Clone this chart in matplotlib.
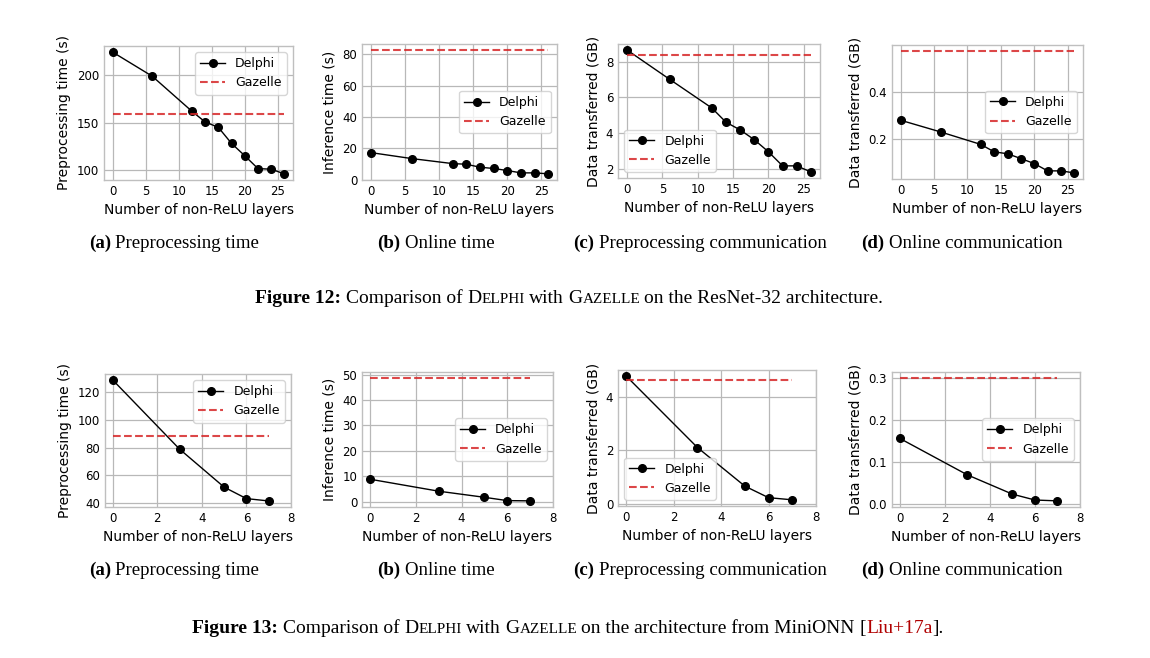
import matplotlib
matplotlib.use("Agg")
import matplotlib.pyplot as plt

# ---------------- data ----------------
x_resnet = [0, 6, 12, 14, 16, 18, 20, 22, 24, 26]
resnet_pre_time = [224.5, 199, 162, 150.7, 145, 128, 115, 101.4, 100.8, 95.8]
resnet_pre_time_gazelle = 159
resnet_online_time = [17.3, 13.5, 10.3, 9.9, 8.0, 7.2, 5.9, 4.4, 4.4, 3.8]
resnet_online_time_gazelle = 82.5
resnet_pre_comm = [8.66, 7.02, 5.40, 4.60, 4.17, 3.62, 2.94, 2.15, 2.15, 1.81]
resnet_pre_comm_gazelle = 8.38
resnet_online_comm = [0.28, 0.231, 0.179, 0.148, 0.14, 0.12, 0.099, 0.0685, 0.0685, 0.06]
resnet_online_comm_gazelle = 0.569

x_minionn = [0, 3, 5, 6, 7]
minionn_pre_time = [129, 78.8, 51.2, 42.9, 41.2]
minionn_pre_time_gazelle = 88.6
minionn_online_time = [8.9, 4.2, 1.8, 0.5, 0.4]
minionn_online_time_gazelle = 48.6
minionn_pre_comm = [4.77, 2.11, 0.67, 0.24, 0.16]
minionn_pre_comm_gazelle = 4.62
minionn_online_comm = [0.156, 0.069, 0.023, 0.009, 0.007]
minionn_online_comm_gazelle = 0.30

xlabel = "Number of non-ReLU layers"
ylabels = ["Preprocessing time (s)", "Inference time (s)",
           "Data transferred (GB)", "Data transferred (GB)"]
sub_letters = ["(a)", "(b)", "(c)", "(d)"]
sub_titles = ["Preprocessing time", "Online time",
              "Preprocessing communication", "Online communication"]

# ---------------- style ----------------
plt.rcParams.update({
    "font.family": "DejaVu Sans",
    "axes.edgecolor": "0.75",
    "axes.linewidth": 1.0,
    "axes.grid": True,
    "grid.color": "0.72",
    "grid.linewidth": 0.9,
    "xtick.major.size": 0,
    "ytick.major.size": 0,
    "xtick.labelsize": 8.5,
    "ytick.labelsize": 8.5,
    "axes.labelsize": 10,
    "legend.fontsize": 9,
})

W, H = 1150, 658
fig = plt.figure(figsize=(W / 100, H / 100), dpi=100)


def add_ax(x0, y0, x1, y1):
    return fig.add_axes([x0 / W, 1 - y1 / H, (x1 - x0) / W, (y1 - y0) / H])


row1_boxes = [(104, 46, 293, 180), (362, 44, 557, 180), (618, 44, 820, 178), (892, 45, 1083, 179)]
row2_boxes = [(105, 374, 291, 507), (362, 372, 553, 507), (618, 370, 816, 506), (892, 372, 1080, 507)]

row1_data = [
    (resnet_pre_time, resnet_pre_time_gazelle, [100, 150, 200], "upper right"),
    (resnet_online_time, resnet_online_time_gazelle, [0, 20, 40, 60, 80], "center right"),
    (resnet_pre_comm, resnet_pre_comm_gazelle, [2, 4, 6, 8], "lower left"),
    (resnet_online_comm, resnet_online_comm_gazelle, [0.2, 0.4], "center right"),
]
row2_data = [
    (minionn_pre_time, minionn_pre_time_gazelle, [40, 60, 80, 100, 120], "upper right"),
    (minionn_online_time, minionn_online_time_gazelle, [0, 10, 20, 30, 40, 50], "center right"),
    (minionn_pre_comm, minionn_pre_comm_gazelle, [0, 2, 4], "lower left"),
    (minionn_online_comm, minionn_online_comm_gazelle, [0.0, 0.1, 0.2, 0.3], "center right"),
]


def draw(ax, xs, ys, gz, yt, loc, ylab, xt):
    ax.plot(xs, ys, color="black", marker="o", markersize=5.5, linewidth=1, label="Delphi")
    ax.plot(xs, [gz] * len(xs), color="#d62728", linestyle="--", linewidth=1.5,
            alpha=0.85, label="Gazelle")
    ax.set_yticks(yt)
    ax.set_xticks(xt)
    ax.set_xlabel(xlabel)
    ax.set_ylabel(ylab)
    ax.legend(loc=loc, frameon=True, edgecolor="0.8", fancybox=True)
    ax.set_axisbelow(True)


for i, (box, (ys, gz, yt, loc)) in enumerate(zip(row1_boxes, row1_data)):
    ax = add_ax(*box)
    draw(ax, x_resnet, ys, gz, yt, loc, ylabels[i], [0, 5, 10, 15, 20, 25])

for i, (box, (ys, gz, yt, loc)) in enumerate(zip(row2_boxes, row2_data)):
    ax = add_ax(*box)
    draw(ax, x_minionn, ys, gz, yt, loc, ylabels[i], [0, 2, 4, 6, 8])
    ax.set_xlim(-0.35, 8.0)

# ---------------- captions ----------------
renderer = fig.canvas.get_renderer()
SERIF = "Liberation Serif"


def rich(xc, ybase, parts):
    """parts: list of (text, size, weight, color, space_after)"""
    texts, widths, gaps = [], [], []
    for s, size, weight, color, space in parts:
        t = fig.text(0, 1 - ybase / H, s, fontsize=size, fontweight=weight, color=color,
                     family=SERIF, va="baseline", ha="left")
        w = t.get_window_extent(renderer).width
        texts.append(t)
        widths.append(w)
        gaps.append(0.25 * size * 100 / 72 if space else 0.0)
    total = sum(widths) + sum(gaps)
    x = xc - total / 2
    for t, w, g in zip(texts, widths, gaps):
        t.set_x(x / W)
        x += w + g


SUB = 13.6
sub_centers = [174, 436, 700, 962]
for yb in (248, 575):
    for c, letter, title in zip(sub_centers, sub_letters, sub_titles):
        rich(c, yb, [(letter, SUB, "bold", "black", True), (title, SUB, "normal", "black", False)])

BIG, SMALL = 14, 11
red = "#b00000"
rich(569, 303, [
    ("Figure 12:", BIG, "bold", "black", True),
    ("Comparison of", BIG, "normal", "black", True),
    ("D", BIG, "normal", "black", False), ("ELPHI", SMALL, "normal", "black", True),
    ("with", BIG, "normal", "black", True),
    ("G", BIG, "normal", "black", False), ("AZELLE", SMALL, "normal", "black", True),
    ("on the ResNet-32 architecture.", BIG, "normal", "black", False),
])
rich(568, 633, [
    ("Figure 13:", BIG, "bold", "black", True),
    ("Comparison of", BIG, "normal", "black", True),
    ("D", BIG, "normal", "black", False), ("ELPHI", SMALL, "normal", "black", True),
    ("with", BIG, "normal", "black", True),
    ("G", BIG, "normal", "black", False), ("AZELLE", SMALL, "normal", "black", True),
    ("on the architecture from MiniONN", BIG, "normal", "black", True),
    ("[", BIG, "normal", "black", False),
    ("Liu+17a", BIG, "normal", red, False),
    ("].", BIG, "normal", "black", False),
])

fig.savefig("out.png", dpi=100)
